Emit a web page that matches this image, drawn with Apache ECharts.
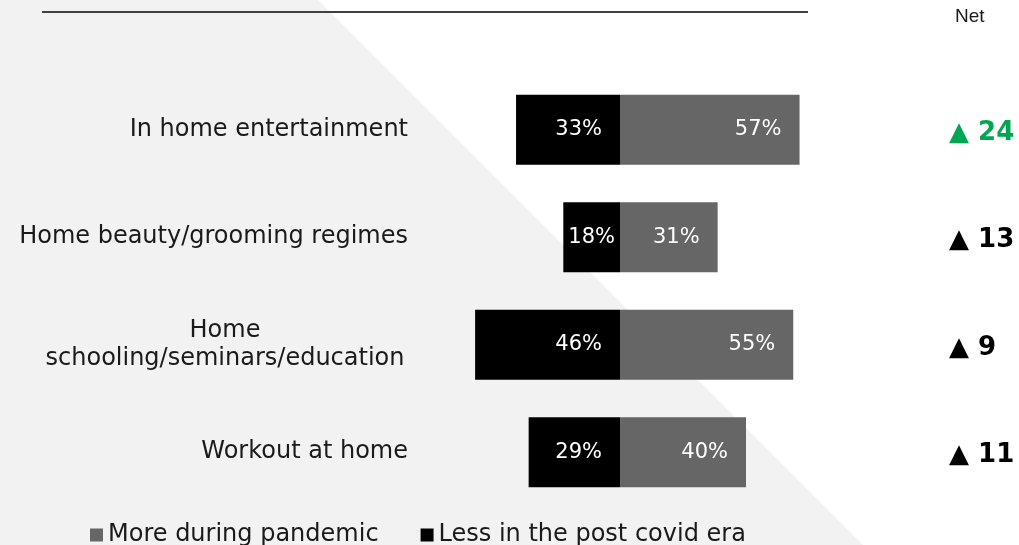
<!DOCTYPE html>
<html>
<head>
<meta charset="utf-8">
<style>
  html, body { margin: 0; padding: 0; background: #ffffff; }
  #chart { width: 1019px; height: 545px; }
</style>
<script src="https://cdn.jsdelivr.net/npm/echarts@6/dist/echarts.min.js"></script>
</head>
<body>
<div id="chart"></div>
<script>
// Activities done at home: share doing less after covid vs. more during the pandemic
const categories = [
  'In home entertainment',
  'Home beauty/grooming regimes',
  'Home\nschooling/seminars/education',
  'Workout at home'
];
const lessValues = [33, 18, 46, 29];   // Less in the post covid era (%)
const moreValues = [57, 31, 55, 40];   // More during pandemic (%)
const seriesNames = ['More during pandemic', 'Less in the post covid era'];
const netTitle = 'Net';

const netValues = moreValues.map((v, i) => v - lessValues[i]);
const netMax = Math.max(...netValues);

const FONT = 'DejaVu Sans';
const chart = echarts.init(document.getElementById('chart'), null, { renderer: 'canvas' });

const yCategoryData = categories.map((c) => {
  if (c.indexOf('\n') >= 0) {
    // multi-line label: lines centred on each other
    return { value: c, textStyle: { align: 'center', padding: [0, 366, 0, 0] } };
  }
  return c;
});

const barLabel = {
  show: true, position: 'insideRight', distance: 18,
  color: '#ffffff', fontFamily: FONT, fontSize: 21,
  formatter: (p) => Math.abs(p.value) + '%'
};

const option = {
  animation: false,
  backgroundColor: '#ffffff',
  graphic: [
    {
      type: 'polygon', z: -10, silent: true,
      shape: { points: [[0, 0], [318, 0], [863, 545], [0, 545]] },
      style: { fill: '#f2f2f2' }
    },
    {
      type: 'line', z: 5, silent: true,
      shape: { x1: 42, y1: 12, x2: 808, y2: 12 },
      style: { stroke: '#404040', lineWidth: 2 }
    },
    {
      type: 'text', left: 955, top: 7, silent: true,
      style: { text: netTitle, font: '19px "Liberation Sans"', fill: '#1a1a1a' }
    }
  ],
  legend: {
    data: seriesNames,
    left: 85,
    top: 518,
    icon: 'rect',
    itemWidth: 13,
    itemHeight: 13,
    itemGap: 42,
    textStyle: { fontFamily: FONT, fontSize: 24, color: '#1a1a1a' }
  },
  grid: [
    { left: 431, right: 210, top: 76, bottom: 39 },
    { left: 949, right: 10, top: 76, bottom: 39 }
  ],
  xAxis: [
    { gridIndex: 0, type: 'value', min: -60, max: 60, show: false },
    { gridIndex: 1, type: 'value', min: 0, max: 1, show: false }
  ],
  yAxis: [
    {
      gridIndex: 0, type: 'category', inverse: true, data: yCategoryData,
      axisLine: { show: false, onZero: false }, axisTick: { show: false },
      axisLabel: {
        margin: 23, fontFamily: FONT, fontSize: 24, color: '#1a1a1a', lineHeight: 28
      }
    },
    {
      gridIndex: 1, type: 'category', inverse: true, data: categories, show: false
    }
  ],
  series: [
    {
      name: seriesNames[0],
      type: 'bar', stack: 'total', xAxisIndex: 0, yAxisIndex: 0,
      barWidth: 70,
      itemStyle: { color: '#666666' },
      label: barLabel,
      data: moreValues
    },
    {
      name: seriesNames[1],
      type: 'bar', stack: 'total', xAxisIndex: 0, yAxisIndex: 0,
      barWidth: 70,
      itemStyle: { color: '#000000' },
      label: barLabel,
      data: lessValues.map((v) => ({
        value: -v,
        label: v < 20 ? { position: 'inside' } : undefined
      }))
    },
    {
      // net change (more minus less) shown in the right-hand column
      name: netTitle,
      type: 'scatter', xAxisIndex: 1, yAxisIndex: 1,
      symbolSize: 0, silent: true,
      itemStyle: { opacity: 1 },
      label: {
        show: true, position: 'right', distance: 0, offset: [0, 3],
        fontFamily: FONT, fontWeight: 'bold', fontSize: 26
      },
      encode: { x: 0, y: 1 },
      data: netValues.map((v, i) => ({
        value: [0, i, v],
        label: {
          color: v === netMax ? '#00a651' : '#000000',
          formatter: '▲ ' + v
        }
      }))
    }
  ]
};

chart.setOption(option);
</script>
</body>
</html>
